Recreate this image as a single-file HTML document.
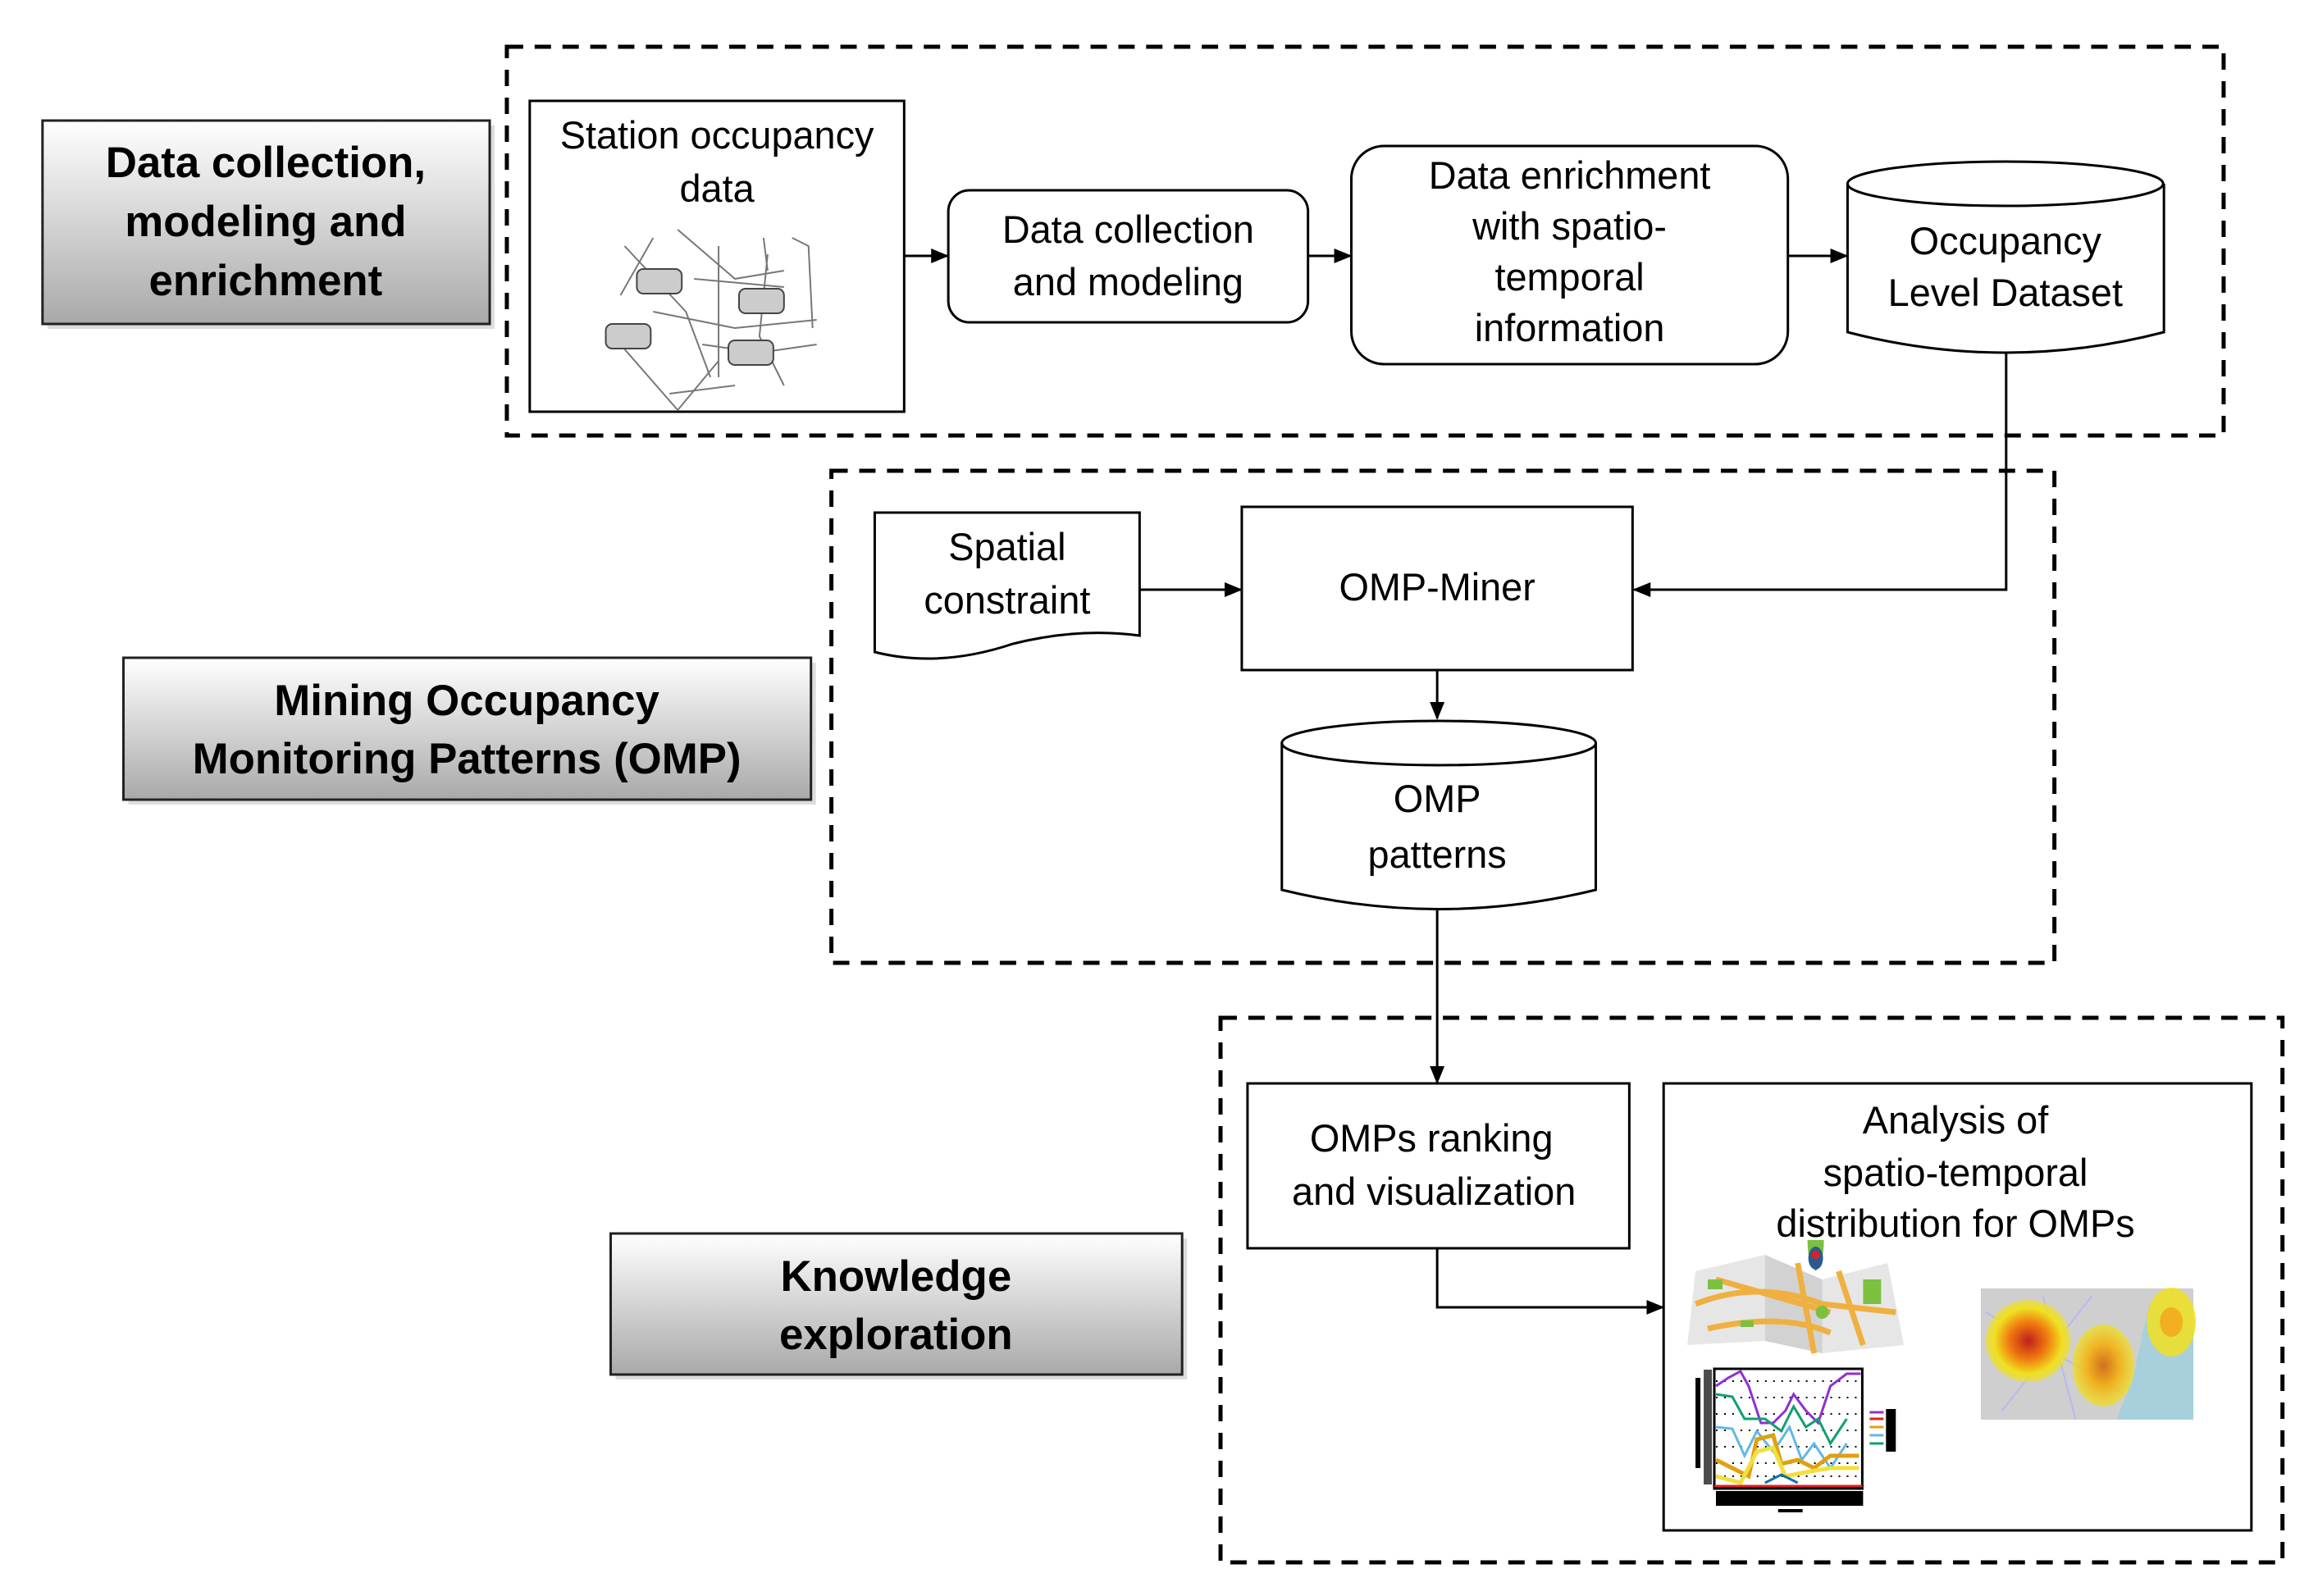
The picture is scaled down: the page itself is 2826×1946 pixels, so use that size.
<!DOCTYPE html>
<html><head><meta charset="utf-8"><style>
html,body{margin:0;padding:0;background:#fff}
svg{display:block}
text{font-family:"Liberation Sans",Arial,sans-serif;fill:#000}
.t{font-size:47px;text-anchor:middle}
.b{font-size:53px;font-weight:bold;text-anchor:middle}
</style></head><body>
<svg width="2826" height="1946" viewBox="0 0 2826 1946" xmlns="http://www.w3.org/2000/svg">
<defs>
<linearGradient id="g" x1="0" y1="0" x2="0" y2="1"><stop offset="0" stop-color="#ffffff"/><stop offset="1" stop-color="#a9a9a9"/></linearGradient>
<marker id="a2" markerWidth="22" markerHeight="22" refX="20" refY="11" orient="auto" markerUnits="userSpaceOnUse" viewBox="0 0 22 22"><path d="M0,2 L22,11 L0,20 z" fill="#000"/></marker>
<radialGradient id="h1"><stop offset="0" stop-color="#c0201a"/><stop offset="0.45" stop-color="#f07a10"/><stop offset="0.8" stop-color="#f0e020"/><stop offset="1" stop-color="#f0e020" stop-opacity="0.6"/></radialGradient>
<radialGradient id="h2"><stop offset="0" stop-color="#d07020"/><stop offset="0.5" stop-color="#f0b020"/><stop offset="1" stop-color="#f0e020" stop-opacity="0.7"/></radialGradient>
</defs>
<g transform="matrix(0.99667,0,0,1,-1,0)">
<!-- dashed group boxes -->
<g fill="none" stroke="#000" stroke-width="5" stroke-dasharray="20,14">
<rect x="621" y="57" width="2100" height="474"/>
<rect x="1018" y="574" width="1496" height="600"/>
<rect x="1494" y="1241" width="1299" height="664"/>
</g>

<!-- labels -->
<g stroke="#222" stroke-width="3">
<rect x="59" y="153" width="547" height="248" fill="#bbb" stroke="none" opacity="0.5"/>
<rect x="53" y="147" width="547" height="248" fill="url(#g)"/>
<rect x="158" y="808" width="841" height="173" fill="#bbb" stroke="none" opacity="0.5"/>
<rect x="152" y="802" width="841" height="173" fill="url(#g)"/>
<rect x="754" y="1510" width="699" height="172" fill="#bbb" stroke="none" opacity="0.5"/>
<rect x="748" y="1504" width="699" height="172" fill="url(#g)"/>
</g>
<text class="b" x="326" y="216">Data collection,</text>
<text class="b" x="326" y="288">modeling and</text>
<text class="b" x="326" y="360">enrichment</text>
<text class="b" x="572" y="872">Mining Occupancy</text>
<text class="b" x="572" y="943">Monitoring Patterns (OMP)</text>
<text class="b" x="1097" y="1574">Knowledge</text>
<text class="b" x="1097" y="1645">exploration</text>

<!-- top row -->
<rect x="649" y="123" width="458" height="379" fill="#fff" stroke="#000" stroke-width="3"/>
<text class="t" x="878" y="181">Station occupancy</text>
<text class="t" x="878" y="246">data</text>
<g stroke="#777" stroke-width="2" fill="none">
<path d="M765,300 L840,380 L870,460 M800,290 L760,360 M830,280 L900,340 L960,330 M880,300 L880,460 M940,310 L930,410 L960,470 M970,290 L990,300 L995,400 M760,420 L830,500 L880,440 M850,340 L960,350 M800,380 L900,400 L1000,390 M860,420 L930,430 L1000,420 M820,480 L900,470 M935,290 L940,330"/>
</g>
<g fill="#ccc" stroke="#444" stroke-width="2">
<rect x="780" y="328" width="55" height="30" rx="8"/><rect x="905" y="352" width="55" height="30" rx="8"/>
<rect x="742" y="395" width="55" height="30" rx="8"/><rect x="892" y="415" width="55" height="30" rx="8"/>
</g>

<rect x="1161" y="232" width="440" height="161" rx="26" fill="#fff" stroke="#000" stroke-width="3"/>
<text class="t" x="1381" y="296">Data collection</text>
<text class="t" x="1381" y="360">and modeling</text>

<rect x="1654" y="178" width="534" height="266" rx="40" fill="#fff" stroke="#000" stroke-width="3"/>
<text class="t" x="1921" y="230">Data enrichment</text>
<text class="t" x="1921" y="292">with spatio-</text>
<text class="t" x="1921" y="354">temporal</text>
<text class="t" x="1921" y="416">information</text>

<path d="M2261,224 L2261,405 Q2454,455 2648,405 L2648,224" fill="#fff" stroke="#000" stroke-width="3"/>
<ellipse cx="2454" cy="224" rx="193" ry="27" fill="#fff" stroke="#000" stroke-width="3"/>
<text class="t" x="2454" y="310">Occupancy</text>
<text class="t" x="2454" y="373">Level Dataset</text>

<g stroke="#000" stroke-width="3" fill="none" marker-end="url(#a2)">
<line x1="1107" y1="312" x2="1160" y2="312"/>
<line x1="1601" y1="312" x2="1653" y2="312"/>
<line x1="2188" y1="312" x2="2260" y2="312"/>
<polyline points="2455,431 2455,719 2000,719"/>
<line x1="1395" y1="719" x2="1519" y2="719"/>
<line x1="1759" y1="817" x2="1759" y2="876"/>
<line x1="1759" y1="1110" x2="1759" y2="1320"/>
<polyline points="1759,1522 1759,1594 2035,1594"/>
</g>

<path d="M1071,625 L1395,625 L1395,775 Q1320,765 1240,785 Q1150,815 1071,795 Z" fill="#fff" stroke="#000" stroke-width="3"/>
<text class="t" x="1233" y="683">Spatial</text>
<text class="t" x="1233" y="748">constraint</text>

<rect x="1520" y="618" width="478" height="199" fill="#fff" stroke="#000" stroke-width="3"/>
<text class="t" x="1759" y="732">OMP-Miner</text>

<path d="M1569,906 L1569,1085 Q1761,1132 1953,1085 L1953,906" fill="#fff" stroke="#000" stroke-width="3"/>
<ellipse cx="1761" cy="906" rx="192" ry="27" fill="#fff" stroke="#000" stroke-width="3"/>
<text class="t" x="1759" y="990">OMP</text>
<text class="t" x="1759" y="1058">patterns</text>

<rect x="1527" y="1321" width="467" height="201" fill="#fff" stroke="#000" stroke-width="3"/>
<text class="t" x="1752" y="1404">OMPs ranking</text>
<text class="t" x="1755" y="1469">and visualization</text>

<rect x="2036" y="1321" width="719" height="545" fill="#fff" stroke="#000" stroke-width="3"/>
<text class="t" x="2393" y="1382">Analysis of</text>
<text class="t" x="2393" y="1446">spatio-temporal</text>
<text class="t" x="2393" y="1508">distribution for OMPs</text>

<path d="M2075,1550 L2160,1530 L2230,1560 L2310,1540 L2330,1640 L2230,1650 L2160,1635 L2065,1640 Z" fill="#e6e6e6"/>
<path d="M2160,1530 L2160,1635 L2230,1650 L2230,1560 Z" fill="#d2d2d2"/>
<g stroke="#f0b040" stroke-width="7" fill="none">
<path d="M2075,1590 Q2150,1560 2230,1590 L2320,1600 M2090,1620 Q2180,1600 2240,1625 M2200,1540 L2220,1650 M2250,1550 L2280,1640 M2100,1560 L2240,1600"/>
</g>
<g fill="#7cc040"><rect x="2090" y="1560" width="18" height="12"/><rect x="2280" y="1560" width="22" height="30"/><circle cx="2230" cy="1600" r="8"/><rect x="2130" y="1610" width="16" height="8"/></g>
<path d="M2212,1512 Q2212,1540 2222,1550 Q2232,1540 2232,1512 Z" fill="#7cc040"/>
<ellipse cx="2222" cy="1534" rx="9" ry="14" fill="#2a5b8c"/>
<circle cx="2222" cy="1530" r="5" fill="#e02020"/>

<rect x="2424" y="1571" width="260" height="160" fill="#cfcfcf"/>
<path d="M2630,1590 L2684,1620 L2684,1731 L2590,1731 L2610,1680 Z" fill="#a8d0dc"/>
<g stroke="#b8b8f0" stroke-width="2"><line x1="2430" y1="1600" x2="2600" y2="1700"/><line x1="2450" y1="1720" x2="2560" y2="1580"/><line x1="2500" y1="1580" x2="2540" y2="1731"/></g>
<ellipse cx="2482" cy="1635" rx="52" ry="50" fill="url(#h1)"/>
<ellipse cx="2574" cy="1665" rx="38" ry="50" fill="url(#h2)"/>
<ellipse cx="2657" cy="1612" rx="30" ry="42" fill="#f0e020" opacity="0.85"/>
<ellipse cx="2657" cy="1612" rx="14" ry="18" fill="#f0b020"/>

<rect x="2098" y="1669" width="181" height="146" fill="#fff" stroke="#000" stroke-width="3"/>
<g stroke="#000" stroke-width="2" stroke-dasharray="2,8"><line x1="2100" y1="1684" x2="2277" y2="1684"/><line x1="2100" y1="1704" x2="2277" y2="1704"/><line x1="2100" y1="1724" x2="2277" y2="1724"/><line x1="2100" y1="1744" x2="2277" y2="1744"/><line x1="2100" y1="1764" x2="2277" y2="1764"/><line x1="2100" y1="1784" x2="2277" y2="1784"/><line x1="2100" y1="1800" x2="2277" y2="1800"/></g>
<g fill="none" stroke-width="3">
<polyline stroke="#9030d0" points="2100,1690 2115,1680 2130,1672 2140,1690 2155,1735 2170,1735 2185,1720 2195,1700 2210,1720 2225,1735 2240,1690 2260,1675 2277,1675"/>
<polyline stroke="#10a070" points="2100,1700 2120,1703 2135,1730 2160,1730 2180,1745 2195,1715 2210,1740 2225,1730 2240,1760 2260,1730"/>
<polyline stroke="#60b8e8" points="2100,1740 2120,1742 2135,1775 2150,1745 2170,1770 2190,1740 2205,1780 2220,1760 2240,1790 2260,1760"/>
<polyline stroke="#e0a010" stroke-width="5" points="2100,1780 2120,1790 2140,1800 2150,1755 2170,1750 2180,1785 2200,1780 2220,1790 2240,1775 2275,1775"/>
<polyline stroke="#f0e040" stroke-width="5" points="2100,1800 2130,1808 2150,1770 2170,1765 2185,1800 2210,1795 2240,1790 2275,1790"/>
<polyline stroke="#1070b0" points="2160,1808 2180,1798 2200,1808"/>
<line stroke="#e02020" x1="2098" y1="1812" x2="2279" y2="1812"/>
</g>
<rect x="2100" y="1818" width="180" height="18" fill="#000"/>
<rect x="2075" y="1680" width="6" height="110" fill="#000"/>
<rect x="2085" y="1670" width="10" height="140" fill="#000" opacity="0.7"/>
<rect x="2176" y="1840" width="30" height="4" fill="#000"/>
<g stroke-width="3"><line x1="2288" y1="1722" x2="2305" y2="1722" stroke="#9030d0"/><line x1="2288" y1="1730" x2="2305" y2="1730" stroke="#e02020"/><line x1="2288" y1="1740" x2="2305" y2="1740" stroke="#e0a010"/><line x1="2288" y1="1750" x2="2305" y2="1750" stroke="#60b8e8"/><line x1="2288" y1="1760" x2="2305" y2="1760" stroke="#10a070"/></g>
<rect x="2308" y="1718" width="12" height="52" fill="#000"/>
</g>
</svg>
</body></html>
